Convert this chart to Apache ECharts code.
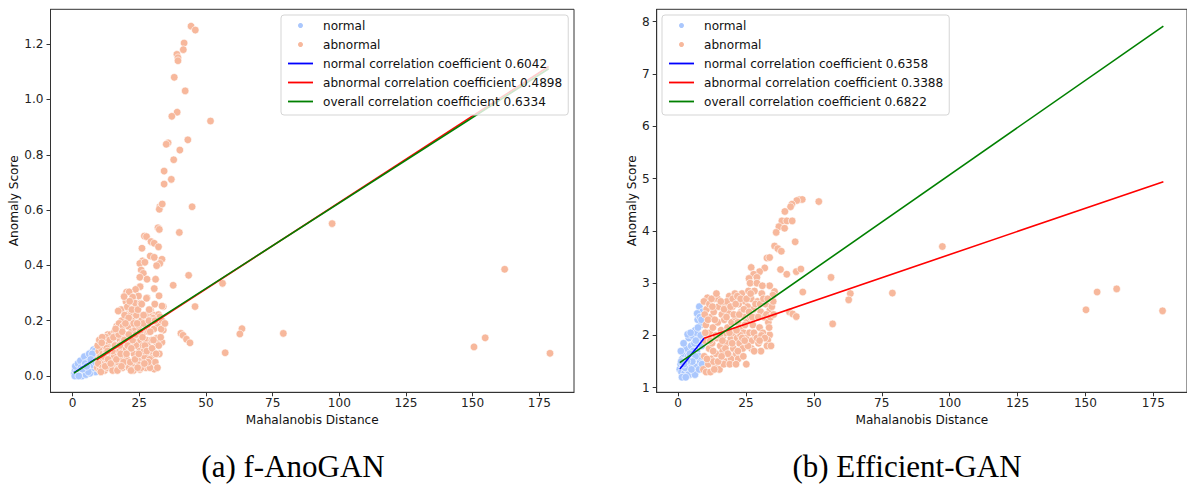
<!DOCTYPE html>
<html><head><meta charset="utf-8">
<script src="https://cdn.jsdelivr.net/npm/echarts@6/dist/echarts.min.js"></script>
<style>html,body{margin:0;padding:0;background:#fff}#c{width:1187px;height:493px}</style>
</head><body><div id="c"></div>
<script>
// ---------- tick labels ----------
const xTicks = [0, 25, 50, 75, 100, 125, 150, 175];
const yTicksA = [0, 0.2, 0.4, 0.6, 0.8, 1.0, 1.2];
const yTicksB = [1, 2, 3, 4, 5, 6, 7, 8];

// ---------- (a) f-AnoGAN ----------
const normalA = [
  [0.6,0.01],[0.9,0.02],[1.2,0.005],[1.5,0.015],[1.8,0.03],[2.1,0.01],[2.4,0.025],[2.7,0.04],
  [3.0,0.015],[3.3,0.035],[3.6,0.05],[3.9,0.02],[4.2,0.045],[4.5,0.01],[4.8,0.03],[5.1,0.06],
  [5.4,0.02],[5.7,0.04],[6.0,0.07],[6.3,0.03],[6.6,0.05],[6.9,0.085],[7.2,0.02],[7.5,0.06],
  [7.8,0.095],[8.1,0.04],[8.4,0.075],[8.6,0.015],[1.0,0.035],[2.0,0.045],[3.5,0.0],[5.0,0.005],
  [6.5,0.01],[7.9,0.03],[8.3,0.09],[4.0,0.06],[2.9,0.055],[5.9,0.015],[7.0,0.045],[1.6,0.0],
  [4.4,0.07],[6.2,0.08],[8.0,0.06],[7.4,0.08],[3.1,0.03],[5.6,0.05],
  [0.8,0.0],[2.3,0.0],[4.7,0.045],[6.8,0.06],[7.6,0.04],[8.5,0.05],[3.7,0.025],[5.3,0.035]
];
const abnormalA = [
  [44.4,1.265],[46.0,1.251],[41.8,1.204],[41.5,1.180],[39.1,1.163],[39.5,1.151],[39.5,1.140],[38.1,1.080],
  [42.2,1.031],[39.2,0.954],[37.2,0.939],[51.7,0.922],[43.2,0.854],[35.8,0.843],[35.1,0.838],[40.2,0.817],
  [37.9,0.782],[34.3,0.741],[37.0,0.711],[34.3,0.694],
  [44.8,0.612],[32.7,0.612],[32.5,0.603],[33.6,0.622],[40.0,0.519],[32.0,0.536],[32.5,0.530],[26.9,0.506],
  [27.7,0.504],[29.4,0.486],[30.6,0.480],[32.2,0.467],[26.0,0.462],[29.1,0.434],[30.6,0.429],[33.5,0.422],
  [32.7,0.407],[31.5,0.399],[26.2,0.416],[25.2,0.407],[27.1,0.411],[25.7,0.383],[26.5,0.371],[25.2,0.357],
  [27.9,0.350],[31.1,0.350],[43.5,0.364],[37.7,0.328],[56.2,0.335],[30.6,0.316],[25.3,0.323],[23.6,0.313],
  [20.2,0.303],[21.2,0.304],[27.9,0.283],[24.7,0.289],[32.4,0.290],[22.6,0.281],[20.0,0.269],[24.1,0.260],
  [34.0,0.251],[33.5,0.253],[45.9,0.251],[21.1,0.241],[22.1,0.232],[21.5,0.219],[17.1,0.235],[29.2,0.239],
  [30.7,0.219],[29.5,0.214],[32.2,0.222],[40.6,0.154],[41.4,0.147],[42.7,0.133],[44.0,0.120],[34.0,0.166],
  [63.5,0.171],[62.7,0.152],[79.0,0.154],[57.2,0.084],[33.5,0.122],[30.5,0.028],[25.3,0.025],[29.6,0.05],
  [26.5,0.058],
  [97.3,0.551],[162.0,0.386],[154.7,0.138],[150.5,0.105],[179.0,0.082],
  [19.3,0.287],[22.5,0.285],[23.5,0.263],[25.6,0.263],[27.7,0.281],[20.8,0.251],[24.6,0.221],[19.0,0.202],
  [30.2,0.209],[32.7,0.214],[31.5,0.136],[28.0,0.115],[29.6,0.073],[27.5,0.073],[25.2,0.024],[30.6,0.025],
  [9.2,0.03],[9.5,0.06],[9.8,0.09],[10.1,0.04],[10.4,0.07],[10.7,0.1],[11.0,0.05],[11.3,0.08],
  [10.2,0.02],[9.6,0.045],[11.6,0.12],[11.2,0.03],
  [12.0,0.02],[12.3,0.05],[12.6,0.09],[12.9,0.13],[13.2,0.15],[13.5,0.04],[13.8,0.07],[12.1,0.11],
  [13.0,0.03],[12.7,0.06],[14.0,0.1],[13.6,0.12],[14.2,0.15],[12.4,0.14],
  [14.5,0.03],[14.8,0.06],[15.1,0.09],[15.4,0.12],[15.7,0.16],[16.0,0.04],[16.3,0.08],[16.6,0.11],
  [16.9,0.14],[15.0,0.02],[15.8,0.05],[16.5,0.18],[17.0,0.025],[14.7,0.13],[15.5,0.07],[16.2,0.15],
  [17.2,0.05],[17.5,0.09],[17.8,0.13],[18.1,0.17],[18.4,0.2],[18.7,0.03],[19.0,0.07],[19.3,0.11],
  [19.6,0.15],[17.4,0.19],[18.2,0.24],[19.9,0.04],[18.9,0.18],[17.9,0.06],[19.5,0.22],[20.0,0.1],
  [18.5,0.12],[17.1,0.235],
  [20.3,0.06],[20.6,0.14],[20.9,0.18],[21.2,0.03],[21.5,0.09],[21.8,0.12],[22.1,0.16],[22.4,0.2],
  [22.7,0.05],[23.0,0.08],[23.3,0.13],[23.6,0.17],[23.9,0.22],[20.5,0.25],[21.4,0.27],[22.2,0.24],
  [23.1,0.03],[24.0,0.11],[21.0,0.21],[22.9,0.19],
  [24.3,0.06],[24.6,0.15],[24.9,0.18],[25.2,0.09],[25.5,0.13],[25.8,0.2],[26.1,0.04],[26.4,0.11],
  [26.7,0.16],[27.0,0.07],[27.3,0.22],[27.6,0.13],[24.5,0.24],[25.9,0.26],[26.8,0.09],[27.9,0.18],
  [25.0,0.04],[26.5,0.19],[27.5,0.03],
  [28.2,0.11],[28.5,0.16],[28.9,0.06],[29.3,0.2],[29.7,0.13],[30.1,0.09],[30.5,0.17],[31.0,0.05],
  [31.5,0.12],[32.0,0.19],[32.5,0.08],[33.0,0.14],[28.7,0.24],[30.8,0.26],[33.5,0.2],[29.0,0.03],[31.8,0.03],
  [9.4,0.11],[10.0,0.13],[10.6,0.015],[11.1,0.14],[11.8,0.07],[12.2,0.035],[12.8,0.1],[13.3,0.06],
  [13.9,0.13],[14.3,0.045],[14.9,0.09],[15.3,0.14],[15.9,0.11],[16.4,0.06],[16.8,0.02],[17.3,0.15],
  [17.7,0.11],[18.0,0.08],[18.6,0.16],[19.1,0.05],[19.4,0.13],[19.8,0.19],[20.2,0.08],[20.7,0.11],
  [21.1,0.15],[21.6,0.05],[22.0,0.1],[22.5,0.13],[22.8,0.02],[23.4,0.06],[23.8,0.15],[24.2,0.19],
  [24.8,0.08],[25.3,0.16],[25.7,0.03],[26.2,0.14],[26.6,0.22],[27.1,0.11],[27.8,0.09],[28.3,0.05],
  [28.6,0.2],[29.1,0.16],[29.8,0.1],[30.3,0.13],[30.9,0.2],[31.3,0.08],[32.3,0.11],[33.2,0.17],
  [34.6,0.19],[10.9,0.12],[13.1,0.09],[16.1,0.17],[18.3,0.035],[21.9,0.02],[24.4,0.03],[26.9,0.045]
];
const normalLineA = [[0.5, 0.012], [8.6, 0.062]];
const abnormalLineA = [[9.0, 0.058], [178.5, 1.119]];
const overallLineA = [[0.5, 0.0106], [178.5, 1.111]];

// ---------- (b) Efficient-GAN ----------
const normalB = [
  [0.6,1.35],[0.9,1.45],[1.2,1.3],[1.5,1.55],[1.8,1.4],[2.1,1.65],[2.4,1.28],[2.7,1.5],
  [3.0,1.75],[3.3,1.35],[3.6,1.6],[3.9,1.95],[4.2,1.25],[4.5,1.45],[4.8,1.8],[5.1,2.0],
  [5.4,1.3],[5.7,1.55],[6.0,1.85],[6.3,2.1],[6.6,1.4],[6.9,1.7],[7.2,2.3],[7.5,1.95],
  [7.8,2.55],[8.1,1.5],[8.4,2.2],[8.7,1.8],[8.9,2.45],[1.0,1.7],[2.0,1.85],[3.5,2.02],
  [4.0,1.55],[5.5,1.7],[6.8,2.05],[7.6,1.6],[8.3,2.0],[2.6,1.38],[4.6,2.05],[7.0,2.42],
  [3.8,1.25],[5.8,1.3],[1.4,1.2],[2.8,1.2],[6.2,1.25],[8.0,2.35],[4.3,1.65],[6.5,1.9],
  [7.3,2.15],[8.6,2.3],[6.4,1.6],[5.2,1.5],[3.2,1.5],[4.9,1.35],[7.7,1.35],[8.8,1.45],[2.2,1.45],[1.1,1.5]
];
const abnormalB = [
  [44.7,4.60],[45.7,4.60],[43.7,4.58],[51.8,4.56],[41.9,4.51],[41.4,4.46],[39.3,4.37],[38.2,4.19],
  [40.0,4.19],[42.0,4.19],[37.1,4.08],[39.2,4.05],[36.1,3.97],[43.1,3.79],[35.5,3.71],[36.7,3.66],
  [38.0,3.61],[32.7,3.48],[33.7,3.49],[26.9,3.30],[31.9,3.29],[30.0,3.22],[27.8,3.17],[26.1,3.09],
  [29.0,3.11],[37.7,3.26],[40.0,3.17],[43.5,3.22],[45.2,3.27],[56.3,3.11],[45.9,2.83],[41.0,2.45],
  [42.2,2.41],[43.5,2.36],[34.3,2.55],[33.8,2.49],[35.5,2.84],[34.9,2.77],[33.7,2.01],[33.0,1.91],
  [25.1,1.45],[56.9,2.22],[63.4,2.80],[62.8,2.68],[97.3,3.70],[78.9,2.81],[150.2,2.49],[154.3,2.83],
  [161.5,2.89],[178.4,2.47],
  [9.3,1.35],[9.6,1.6],[9.9,1.9],[10.2,2.2],[10.5,2.5],[10.8,2.72],[11.1,1.45],[11.4,1.75],
  [11.7,2.05],[12.0,2.35],[9.5,2.65],[10.3,1.3],[11.5,2.6],[12.2,1.55],[10.0,2.05],[11.9,1.3],
  [12.5,1.85],[12.8,2.15],[13.1,2.45],[13.4,2.7],[13.7,1.4],[14.0,1.65],[14.3,1.95],[14.6,2.25],
  [14.9,2.55],[15.2,1.35],[15.5,1.8],[15.8,2.1],[16.1,2.4],[13.0,1.5],[14.5,2.7],[15.9,1.55],
  [12.6,2.55],[13.9,2.0],
  [16.4,1.7],[16.7,2.0],[17.0,2.3],[17.3,2.6],[17.6,1.5],[17.9,1.85],[18.2,2.15],[18.5,2.45],
  [18.8,2.75],[19.1,1.6],[19.4,1.95],[19.7,2.25],[20.0,2.55],[20.3,1.75],[20.6,2.05],[20.9,2.8],
  [16.8,1.45],[18.0,2.65],[19.5,1.55],[21.0,2.35],[17.5,2.05],[20.1,2.7],
  [21.4,1.65],[21.7,1.95],[22.0,2.25],[22.3,2.6],[22.6,1.85],[22.9,2.15],[23.2,2.45],[23.5,2.8],
  [23.8,1.75],[24.1,2.05],[24.4,2.35],[24.7,2.65],[25.0,1.95],[25.3,2.25],[25.6,2.55],[25.9,2.85],
  [22.1,1.55],[24.0,1.6],[21.8,2.75],[23.0,2.0],
  [26.3,2.05],[26.6,2.35],[26.9,2.7],[27.2,1.9],[27.5,2.2],[27.8,2.5],[28.1,2.85],[28.4,2.0],
  [28.8,2.35],[29.2,2.65],[29.6,1.85],[30.0,2.15],[30.4,2.45],[30.8,2.8],[31.2,2.05],[31.7,2.35],
  [32.2,2.6],[32.7,1.8],[33.2,2.25],[33.7,2.95],[26.5,3.0],[29.0,3.0],[31.0,2.95],[27.0,1.75],
  [30.5,1.7],[34.5,2.55],[35.0,2.65],
  [9.8,2.4],[10.6,1.55],[11.0,2.3],[11.8,1.9],[12.3,2.7],[12.9,1.7],[13.5,2.3],[14.1,2.8],
  [14.7,1.5],[15.3,2.0],[15.7,2.65],[16.3,1.9],[16.9,2.5],[17.4,1.75],[17.8,2.35],[18.3,1.65],
  [18.9,2.05],[19.3,2.55],[19.9,1.85],[20.5,2.4],[21.2,2.6],[21.5,2.1],[22.0,1.7],[22.5,2.4],
  [23.0,2.7],[23.6,1.95],[24.2,2.5],[24.6,2.2],[25.2,2.7],[25.7,1.8],[26.1,2.45],[26.7,2.8],
  [27.3,2.35],[27.9,2.05],[28.5,2.6],[29.0,1.95],[29.5,2.35],[30.2,2.6],[30.7,2.0],[31.4,2.7],
  [31.9,1.95],[32.5,2.4],[33.0,2.7],[33.5,2.15],[34.0,2.35],[35.2,2.4],[34.2,1.8],[13.3,1.35],
  [16.0,1.6],[19.0,1.45],[21.3,1.45],[28.0,1.7],[30.0,1.9],[24.5,1.9]
];
const normalLineB = [[0.62, 1.357], [9.55, 1.945]];
const abnormalLineB = [[9.55, 1.945], [178.7, 4.94]];
const overallLineB = [[0.62, 1.478], [178.7, 7.917]];

// ---------- texts ----------
const legendA = ['normal', 'abnormal', 'normal correlation coefficient 0.6042',
  'abnormal correlation coefficient 0.4898', 'overall correlation coefficient 0.6334'];
const legendB = ['normal', 'abnormal', 'normal correlation coefficient 0.6358',
  'abnormal correlation coefficient 0.3388', 'overall correlation coefficient 0.6822'];
const captions = ['(a) f-AnoGAN', '(b) Efficient-GAN'];
const xName = 'Mahalanobis Distance';
const yName = 'Anomaly Score';

// ---------- styling ----------
const FONT = 'DejaVu Sans';
const FS = 12.1;
const NORMAL_C = '#aac7fd';
const ABNORMAL_C = '#f7b89c';
const AXC = '#333';
const LINE_ICON = 'path://M0 0H50V3.6H0Z';

function xAxis(grid, min, max) {
  return {
    type: 'value', gridIndex: grid, min: min, max: max,
    axisLine: { show: true, onZero: false, lineStyle: { color: AXC, width: 1 } },
    axisTick: { show: true, length: 4, lineStyle: { color: AXC, width: 1 }, customValues: xTicks },
    axisLabel: { customValues: xTicks, fontFamily: FONT, fontSize: FS, color: '#222', margin: 5 },
    splitLine: { show: false },
    name: xName, nameLocation: 'middle', nameGap: 17,
    nameTextStyle: { fontFamily: FONT, fontSize: FS, color: '#111' }
  };
}
function yAxis(grid, min, max, ticks, fmt, gap) {
  return {
    type: 'value', gridIndex: grid, min: min, max: max,
    axisLine: { show: true, onZero: false, lineStyle: { color: AXC, width: 1 } },
    axisTick: { show: true, length: 4, lineStyle: { color: AXC, width: 1 }, customValues: ticks },
    axisLabel: { customValues: ticks, fontFamily: FONT, fontSize: FS, color: '#222', margin: 7, formatter: fmt },
    splitLine: { show: false },
    name: yName, nameLocation: 'middle', nameGap: gap, nameRotate: 90,
    nameTextStyle: { fontFamily: FONT, fontSize: FS, color: '#111' }
  };
}
function scatter(name, data, color, g) {
  return {
    type: 'scatter', name: name, data: data, xAxisIndex: g, yAxisIndex: g,
    symbol: 'circle', symbolSize: 7.6,
    itemStyle: { color: color, borderColor: '#fff', borderWidth: 0.6, opacity: 1 },
    silent: true, z: 2
  };
}
function line(name, data, color, g) {
  return {
    type: 'line', name: name, data: data, xAxisIndex: g, yAxisIndex: g,
    symbol: 'none', showSymbol: false,
    lineStyle: { color: color, width: 1.6 }, itemStyle: { color: color },
    silent: true, z: 3
  };
}
function legend(names, left) {
  const data = names.map((n, i) => i < 2 ? { name: n } : { name: n, icon: LINE_ICON });
  return {
    data: data, orient: 'vertical', left: left, top: 15,
    itemWidth: 25, itemHeight: 7, itemGap: 0,
    padding: [1, 6, 4, 7],
    backgroundColor: 'rgba(255,255,255,0.8)', borderColor: '#d5d5d5', borderWidth: 1, borderRadius: 3,
    textStyle: { fontFamily: FONT, fontSize: FS, color: '#111', lineHeight: 19, padding: [0, 0, 0, 5] },
    selectedMode: false
  };
}

const chart = echarts.init(document.getElementById('c'), null, { renderer: 'svg' });
chart.setOption({
  animation: false,
  backgroundColor: '#fff',
  grid: [
    { left: 50.5, top: 9.3, width: 523.5, height: 383, show: true, borderColor: AXC, borderWidth: 1, backgroundColor: 'transparent' },
    { left: 656.7, top: 9.3, width: 532, height: 383, show: true, borderColor: AXC, borderWidth: 1, backgroundColor: 'transparent' }
  ],
  xAxis: [xAxis(0, -8.3, 188), xAxis(1, -7.9, 187.4)],
  yAxis: [
    yAxis(0, -0.059, 1.326, yTicksA, v => v.toFixed(1), 25),
    yAxis(1, 0.912, 8.237, yTicksB, v => String(v), 19)
  ],
  legend: [legend(legendA, 281), legend(legendB, 662)],
  series: [
    scatter('normal', normalA, NORMAL_C, 0),
    scatter('abnormal', abnormalA, ABNORMAL_C, 0),
    line(legendA[2], normalLineA, '#0000ff', 0),
    line(legendA[3], abnormalLineA, '#ff0000', 0),
    line(legendA[4], overallLineA, '#008000', 0),
    scatter('normal', normalB, NORMAL_C, 1),
    scatter('abnormal', abnormalB, ABNORMAL_C, 1),
    line(legendB[2], normalLineB, '#0000ff', 1),
    line(legendB[3], abnormalLineB, '#ff0000', 1),
    line(legendB[4], overallLineB, '#008000', 1)
  ],
  graphic: [
    { type: 'text', x: 293, y: 466, style: { text: captions[0], font: '31px "Liberation Serif"', fill: '#000', textAlign: 'center', textVerticalAlign: 'middle' } },
    { type: 'text', x: 907, y: 466, style: { text: captions[1], font: '31px "Liberation Serif"', fill: '#000', textAlign: 'center', textVerticalAlign: 'middle' } }
  ]
});
</script>
</body></html>
